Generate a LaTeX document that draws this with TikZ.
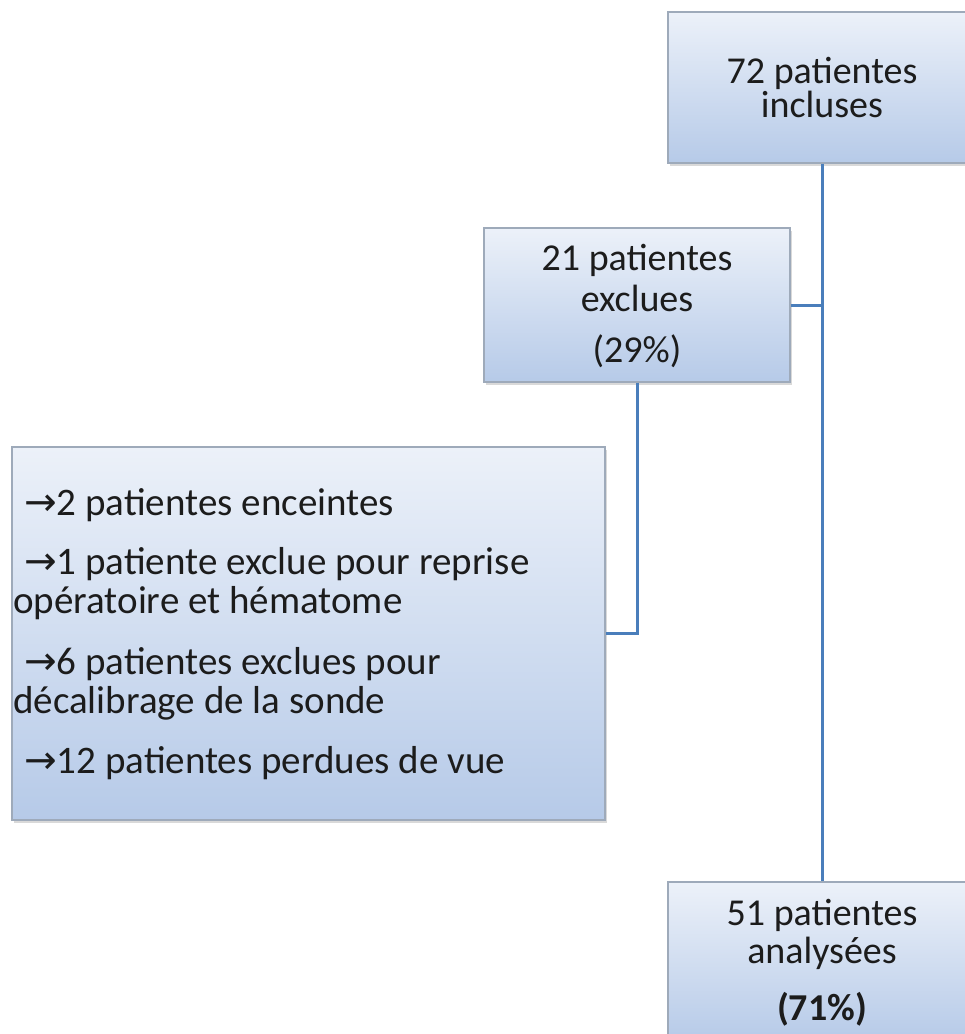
\documentclass[tikz,border=0pt]{standalone}
\usepackage{fontspec}
\setmainfont{Carlito}
\newfontfamily\dvs{DejaVu Sans}
\usetikzlibrary{shadows}
\definecolor{linec}{RGB}{74,126,187}
\definecolor{boxtop}{RGB}{236,241,249}
\definecolor{boxbot}{RGB}{182,202,232}
\definecolor{boxedge}{RGB}{158,170,186}
\definecolor{txt}{RGB}{28,28,28}
\tikzset{
 boxst/.style={draw=boxedge, line width=1.2pt, top color=boxtop, bottom color=boxbot,
   drop shadow={shadow xshift=2pt, shadow yshift=-3pt, opacity=0.3}, inner sep=0pt},
 bigt/.style={font=\fontsize{38}{40}\selectfont, text=txt, inner sep=0pt, anchor=base},
 smallt/.style={font=\fontsize{39}{40}\selectfont, text=txt, inner sep=0pt, anchor=base west},
 conn/.style={draw=linec, line width=3pt}
}
\newcommand{\arr}{{\dvs →}}
\begin{document}
\begin{tikzpicture}[x=1pt,y=-1pt]
\useasboundingbox (0,0) rectangle (965,1034);
\begin{scope}
\clip (0,0) rectangle (965,1034);
% boxes
\node[boxst, minimum width=308pt, minimum height=151pt] (b1) at (822,87.5) {};
\node[boxst, minimum width=306pt, minimum height=154pt] (b2) at (637,305) {};
\node[boxst, minimum width=593pt, minimum height=373pt] (b3) at (308.5,633.5) {};
\node[boxst, minimum width=308pt, minimum height=160pt] (b4) at (822,962) {};
% connectors
\draw[conn] (b1.south) -- (b4.north);
\draw[conn] (b2.east) -- (b2.east -| b1.south);
\draw[conn] (b2.south) |- (b3.east);
% texts box 1
\node[bigt] (t11) at (822,83) {72 patientes};
\node[bigt] (t12) at (822,117) {incluses};
% box 2
\node[bigt] (t21) at (637,270) {21 patientes};
\node[bigt] (t22) at (637,311) {exclues};
\node[bigt] (t23) at (637,362) {(29\%)};
% box 3
\node[smallt] (t31) at (24,515) {\arr2 patientes enceintes};
\node[smallt] (t32) at (24,574) {\arr1 patiente exclue pour reprise};
\node[smallt] (t33) at (13,613) {opératoire et hématome};
\node[smallt] (t34) at (24,674) {\arr6 patientes exclues pour};
\node[smallt] (t35) at (13,713) {décalibrage de la sonde};
\node[smallt] (t36) at (24,773) {\arr12 patientes perdues de vue};
% box 4
\node[bigt] (t41) at (822,925) {51 patientes};
\node[bigt] (t42) at (822,963) {analysées};
\node[bigt, font=\fontsize{38}{40}\selectfont\bfseries] (t43) at (822,1020) {(71\%)};
\end{scope}
\end{tikzpicture}
\end{document}
